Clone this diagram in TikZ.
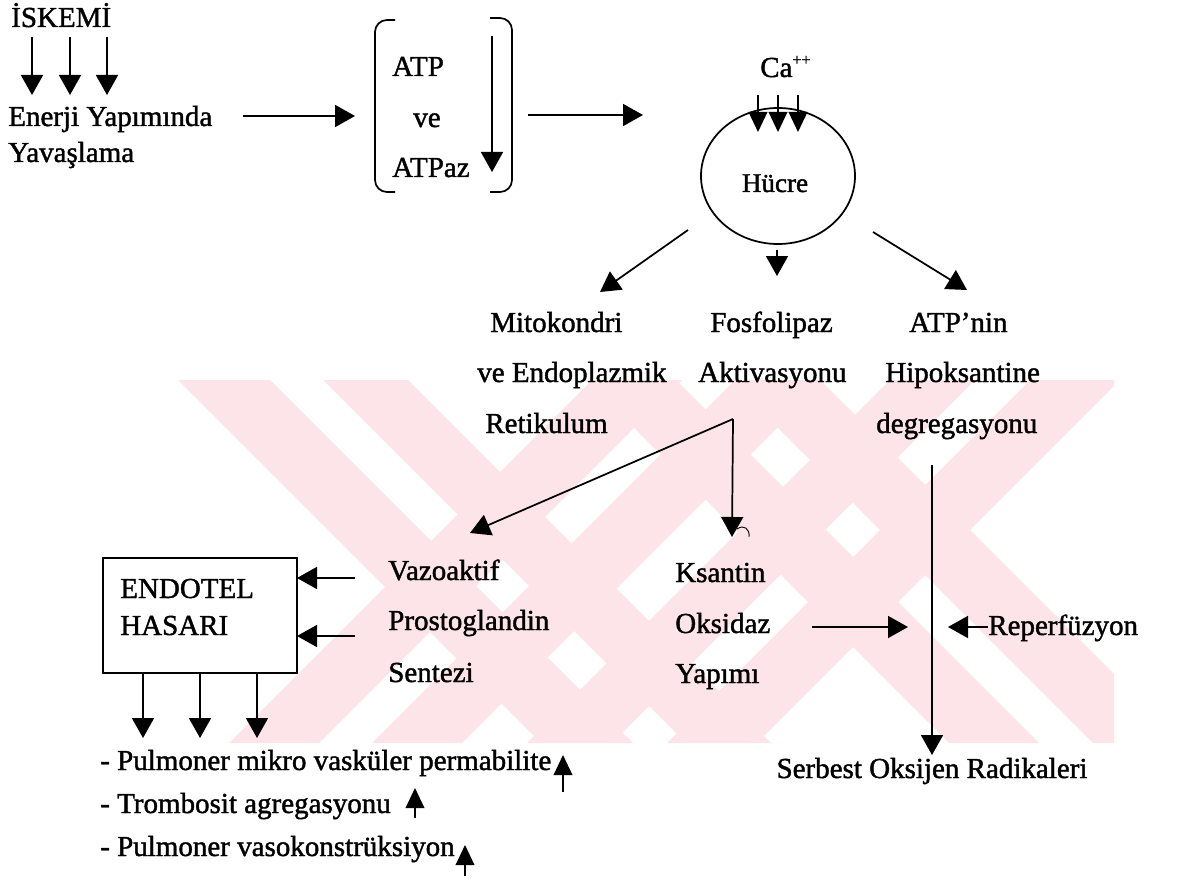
\documentclass[tikz,border=0pt]{standalone}
\usepackage{fontspec}
\setmainfont{Liberation Serif}[FakeBold=1.4]
\usetikzlibrary{arrows.meta,shapes.geometric}
\definecolor{wm}{RGB}{252,228,233}
\tikzset{
  lbl/.style={anchor=base west, inner sep=0pt, font=\fontsize{21.75}{26}\selectfont},
  lblc/.style={anchor=base, inner sep=0pt, font=\fontsize{21.75}{26}\selectfont},
  ln/.style={line width=1.3pt},
  arr/.style={line width=1.3pt, -{Triangle[width=16.5pt,length=15pt]}},
  arrs/.style={line width=1.1pt, -{Triangle[width=14pt,length=15pt]}},
}
\begin{document}
\begin{tikzpicture}[x=0.75pt,y=-0.75pt]
\useasboundingbox (0,0) rectangle (1178,895);
% watermark
\begin{scope}
\clip (178,380) rectangle (1114,743);
\fill[wm] (178,380) -- (270,380) -- (633,743) -- (541,743) -- cycle;
\fill[wm] (323,380) -- (408,380) -- (771,743) -- (686,743) -- cycle;
\fill[wm] (586,380) -- (676,380) -- (1039,743) -- (949,743) -- cycle;
\fill[wm] (730,380) -- (820,380) -- (1183,743) -- (1093,743) -- cycle;
\fill[wm] (592,380) -- (682,380) -- (319,743) -- (229,743) -- cycle;
\fill[wm] (735,380) -- (825,380) -- (462,743) -- (372,743) -- cycle;
\fill[wm] (890,380) -- (975,380) -- (612,743) -- (527,743) -- cycle;
\fill[wm] (1030,380) -- (1120,380) -- (757,743) -- (667,743) -- cycle;
\end{scope}

% top left
\node[lbl] (isk) at (11,27) {İSKEMİ};
\foreach \x [count=\i] in {32,70,107} {
  \coordinate (is\i) at (\x,37);
  \coordinate (ie\i) at (\x,95);
  \draw[arr] (is\i) -- (ie\i);
}
\node[lbl] (ener) at (8,126) {Enerji Yapımında};
\node[lbl] (yav) at (8,162) {Yavaşlama};
\coordinate (a1s) at (243,116);
\coordinate (a1e) at (355,116);
\draw[arr] (a1s) -- (a1e);

% bracket block
\draw[ln, rounded corners=9pt] (395,20) -- (375,20) -- (375,192) -- (395,192);
\draw[ln, rounded corners=9pt] (490,18) -- (512,18) -- (512,192) -- (490,192);
\node[lbl] (atp) at (392,76) {ATP};
\node[lblc] (ve) at (427,127) {ve};
\node[lbl] (atpaz) at (392,177) {ATPaz};
\coordinate (bis) at (492,36);
\coordinate (bie) at (492,172);
\draw[arr] (bis) -- (bie);
\coordinate (a2s) at (528,115);
\coordinate (a2e) at (643,115);
\draw[arr] (a2s) -- (a2e);

% cell
\node[ellipse, draw, ln, inner sep=0pt, minimum width=115.5pt, minimum height=102pt] (hucre) at (778,176) {};
\node[lblc, font=\fontsize{20.3}{24}\selectfont] (hucret) at (775,192) {Hücre};
\node[lbl] (ca) at (760,77) {Ca\raisebox{9pt}{\fontsize{12}{13}\selectfont ++}};
\foreach \x [count=\i] in {758,778,798} {
  \coordinate (cs\i) at (\x,95);
  \coordinate (ce\i) at (\x,132);
  \draw[arrs] (cs\i) -- (ce\i);
}
\coordinate (h1s) at (688,230);
\coordinate (h1e) at (600,292);
\coordinate (h2s) at (777,250);
\coordinate (h2e) at (777,276);
\coordinate (h3s) at (873,232);
\coordinate (h3e) at (967,290);
\draw[arr] (h1s) -- (h1e);
\draw[arr] (h2s) -- (h2e);
\draw[arr] (h3s) -- (h3e);

% middle row
\node[lbl] (mito) at (490,332) {Mitokondri};
\node[lbl] (endo2) at (477,382) {ve Endoplazmik};
\node[lbl] (reti) at (485,433) {Retikulum};
\node[lbl] (fosf) at (710,332) {Fosfolipaz};
\node[lbl] (akti) at (698,382) {Aktivasyonu};
\node[lbl] (atpn) at (909,332) {ATP’nin};
\node[lbl] (hipo) at (885,382) {Hipoksantine};
\node[lbl] (degr) at (876,433) {degregasyonu};

% split from Fosfolipaz
\coordinate (fv) at (733,419);
\coordinate (fl) at (470,533);
\coordinate (fd) at (732,537);
\draw[arr] (fv) -- (fl);
\draw[arr] (fv) -- (fd);
\draw[line width=0.7pt] (737,529) .. controls (744,524) and (750,529) .. (749,537);

% Ksantin column
\node[lbl] (ksan) at (675,582) {Ksantin};
\node[lbl] (oksi) at (675,633) {Oksidaz};
\node[lbl] (yapi) at (675,683) {Yapımı};

% Vazoaktif column
\node[lbl] (vazo) at (388,580) {Vazoaktif};
\node[lbl] (pros) at (388,630) {Prostoglandin};
\node[lbl] (sent) at (388,682) {Sentezi};

% Endotel box
\node[draw, ln, inner sep=0pt, minimum width=145.5pt, minimum height=86.25pt] (endot) at (200,615.5) {};
\node[lbl] (endt1) at (120,598) {ENDOTEL};
\node[lbl] (endt2) at (120,635) {HASARI};
\coordinate (v1s) at (355,578);
\coordinate (v1e) at (297,578);
\coordinate (v2s) at (355,636);
\coordinate (v2e) at (297,636);
\draw[arr] (v1s) -- (v1e);
\draw[arr] (v2s) -- (v2e);
\foreach \x [count=\i] in {143,200,257} {
  \coordinate (ds\i) at (\x,673);
  \coordinate (de\i) at (\x,738);
  \draw[arr] (ds\i) -- (de\i);
}

% bottom list
\node[lbl] (l1) at (100,770) {- Pulmoner mikro vasküler permabilite};
\node[lbl] (l2) at (100,813) {- Trombosit agregasyonu};
\node[lbl] (l3) at (100,856) {- Pulmoner vasokonstrüksiyon};
\coordinate (u1s) at (563,792);
\coordinate (u1e) at (563,755);
\coordinate (u2s) at (415,818);
\coordinate (u2e) at (415,788);
\coordinate (u3s) at (465,876);
\coordinate (u3e) at (465,845);
\draw[arrs] (u1s) -- (u1e);
\draw[arrs] (u2s) -- (u2e);
\draw[arrs] (u3s) -- (u3e);

% right part
\coordinate (os) at (812,627);
\coordinate (oe) at (908,627);
\draw[arr] (os) -- (oe);
\coordinate (vs) at (932,465);
\coordinate (ve2) at (932,755);
\draw[arr] (vs) -- (ve2);
\node[lbl] (repe) at (988,635) {Reperfüzyon};
\coordinate (rt) at (948,627);
\draw[arr] (repe.west |- rt) -- (rt);
\node[lblc] (serb) at (932,778) {Serbest Oksijen Radikaleri};
\end{tikzpicture}
\end{document}
